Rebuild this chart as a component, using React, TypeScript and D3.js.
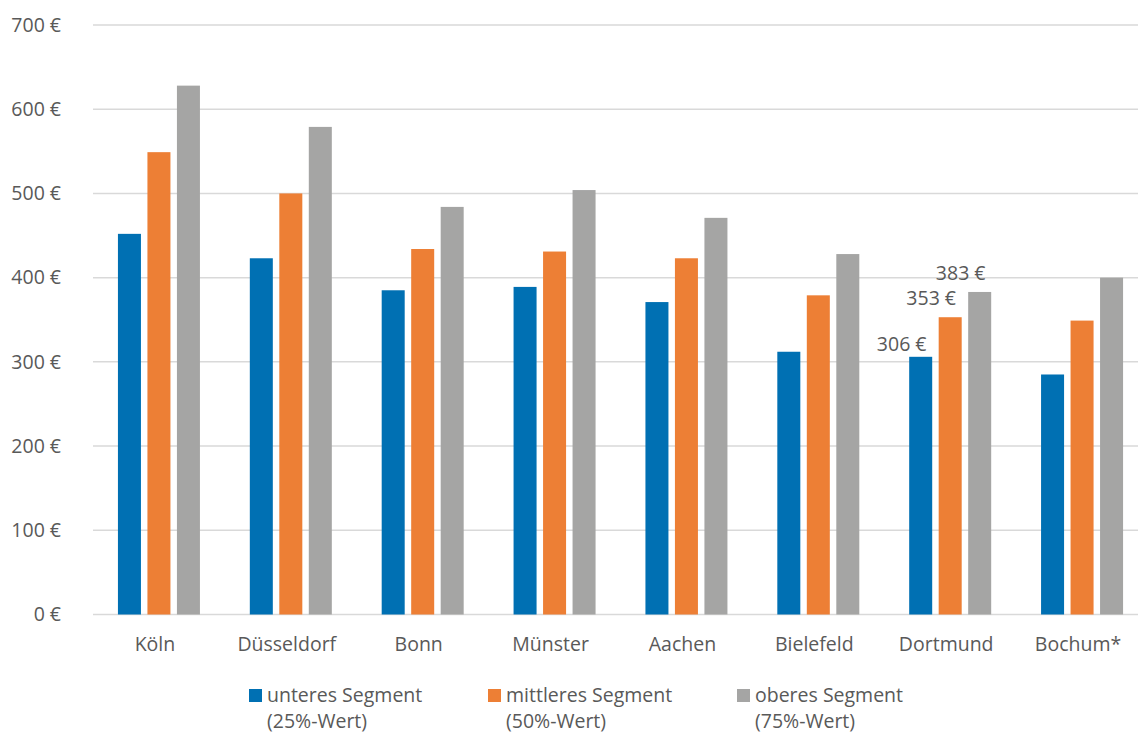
import React from "react";
import * as d3 from "d3";

const categories = ["Köln", "Düsseldorf", "Bonn", "Münster", "Aachen", "Bielefeld", "Dortmund", "Bochum*"];
const seriesNames = ["unteres Segment", "mittleres Segment", "oberes Segment"];
const seriesSub = ["(25%-Wert)", "(50%-Wert)", "(75%-Wert)"];
const colors = ["#0070b3", "#ed7f35", "#a5a5a4"];
const lower = [452, 423, 385, 389, 371, 312, 306, 285];
const middle = [549, 500, 434, 431, 423, 379, 353, 349];
const upper = [628, 579, 484, 504, 471, 428, 383, 400];
const yTicks = [0, 100, 200, 300, 400, 500, 600, 700];
const labelled = "Dortmund";

const W = 1138;
const H = 733;
const FONT = "'Open Sans', sans-serif";
const TXT = "#595959";
const FS = 19.5;

export default function App() {
  const values = [lower, middle, upper];
  const y = d3.scaleLinear().domain([0, 700]).range([614.5, 25]);
  const x0 = d3.scaleBand<string>().domain(categories).range([93, 1148]).padding(0);
  const x1 = d3.scaleBand<number>().domain([0, 1, 2]).range([0, 82]).paddingInner(0.22).paddingOuter(0);
  const legendX = [249, 488, 737];
  const labelDy = [-6, -12, -12];

  return (
    <div style={{ position: "absolute", left: 0, top: 0 }}>
      <svg width={W} height={H} style={{ display: "block", fontFamily: FONT }}>
        <rect width={W} height={H} fill="#fff" />
        {yTicks.map((t) => (
          <g key={t}>
            <line x1={93} x2={W} y1={y(t)} y2={y(t)} stroke="#d9d9d9" strokeWidth={1.5} />
            <text x={61} y={y(t)} dy="0.35em" textAnchor="end" fontSize={FS} fill={TXT}>
              {`${t} €`}
            </text>
          </g>
        ))}
        {categories.map((c, i) => {
          const cx = (x0(c) as number) + x0.bandwidth() / 2;
          const start = cx - 41;
          return (
            <g key={c}>
              {values.map((arr, s) => {
                const bx = start + (x1(s) as number);
                const by = y(arr[i]);
                return (
                  <g key={s}>
                    <rect x={bx} y={by} width={x1.bandwidth()} height={y(0) - by} fill={colors[s]} />
                    {c === labelled && (
                      <text x={bx + x1.bandwidth() / 2 - 19} y={by + labelDy[s]} textAnchor="middle" fontSize={FS} fill={TXT}>
                        {`${arr[i]} €`}
                      </text>
                    )}
                  </g>
                );
              })}
              <text x={cx - 4} y={651} textAnchor="middle" fontSize={FS} fill={TXT}>
                {c}
              </text>
            </g>
          );
        })}
        {seriesNames.map((n, s) => (
          <g key={n}>
            <rect x={legendX[s]} y={689} width={13} height={13} fill={colors[s]} />
            <text x={legendX[s] + 18} y={702} fontSize={FS} fill={TXT}>
              {n}
            </text>
            <text x={legendX[s] + 18} y={728} fontSize={FS} fill={TXT}>
              {seriesSub[s]}
            </text>
          </g>
        ))}
      </svg>
    </div>
  );
}
